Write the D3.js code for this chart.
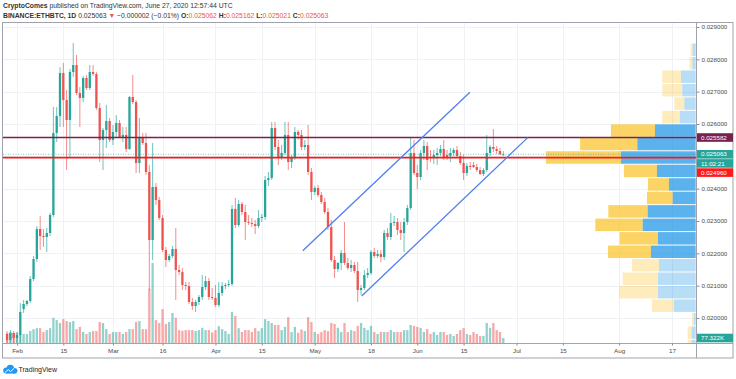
<!DOCTYPE html>
<html><head><meta charset="utf-8">
<script src="https://cdn.jsdelivr.net/npm/d3@7"></script>
<style>
html,body{margin:0;padding:0;background:#fff;}
svg{display:block;font-family:"Liberation Sans",Arial,sans-serif;}
</style></head><body>
<svg id="c" width="736" height="379"></svg>
<script>
// ---------- DATA (daily ETH/BTC, Jan 29 – Jun 27 2020) ----------
const firstDay = "2020-01-29";
const opens = [
0.019505,0.019320,0.019536,
0.019381,0.019474,0.020278,0.020433,0.020526,0.021206,0.021825,0.022753,0.022536,0.022505,0.022629,0.023186,0.025722,0.026247,0.027577,0.026742,0.026124,0.027608,0.027825,0.026959,0.026804,0.027423,0.027113,0.027608,0.027546,0.026495,0.025505,0.025814,0.026093,
0.025505,0.025753,0.026031,0.025598,0.025660,0.025227,0.026835,0.026680,0.024794,0.025598,0.025412,0.024515,0.022412,0.024052,0.023649,0.023093,0.022103,0.021794,0.021918,0.022134,0.021485,0.021423,0.021021,0.020990,0.020495,0.020371,0.020495,0.020649,0.020959,0.021144,0.020649,
0.020619,0.020402,0.020773,0.020990,0.021021,0.021052,0.023371,0.022876,0.023526,0.023278,0.022969,0.022938,0.022907,0.022845,0.023093,0.023124,0.024268,0.024330,0.025876,0.025289,0.024948,0.025103,0.025660,0.024825,0.024948,0.025753,0.025660,0.025289,0.025351,0.024515,
0.023897,0.024021,0.023804,0.023588,0.023278,0.022814,0.021794,0.021515,0.021701,0.022010,0.021701,0.021546,0.021639,0.021454,0.020866,0.020928,0.021330,0.021392,0.022041,0.021918,0.021979,0.021887,0.022629,0.022505,0.022938,0.022969,0.022722,0.022629,0.022969,0.023402,0.025103,
0.024485,0.024361,0.025103,0.025320,0.024979,0.024948,0.025041,0.025103,0.025227,0.025041,0.025010,0.025103,0.025196,0.025010,0.024794,0.024485,0.024701,0.024732,0.024670,0.024577,0.024454,0.024577,0.025103,0.025289,0.025227,0.025165,0.025062];
const highs = [
0.019598,0.019629,0.019598,
0.019536,0.020464,0.020557,0.020557,0.021299,0.021918,0.022845,0.023155,0.022753,0.022784,0.023247,0.026526,0.026526,0.027763,0.027887,0.027052,0.027701,0.028505,0.028134,0.027144,0.027485,0.027516,0.027825,0.027825,0.027608,0.026650,0.025876,0.026588,0.026186,
0.025969,0.026278,0.026124,0.025907,0.025907,0.026870,0.027516,0.026742,0.026186,0.025722,0.025722,0.024732,0.025412,0.024175,0.023742,0.023186,0.022196,0.021979,0.022227,0.022784,0.021639,0.021546,0.021113,0.021113,0.020619,0.020557,0.020711,0.021330,0.021299,0.021237,0.020928,
0.021021,0.021113,0.021113,0.021082,0.021175,0.023495,0.023711,0.023649,0.023588,0.023495,0.023186,0.023093,0.023031,0.023340,0.023217,0.024392,0.024515,0.026062,0.026062,0.025505,0.025351,0.026062,0.026062,0.025041,0.025907,0.025814,0.025814,0.025505,0.025969,0.024639,
0.024082,0.024113,0.023897,0.023711,0.023402,0.023031,0.021918,0.021732,0.022103,0.022969,0.021856,0.021794,0.021732,0.021732,0.021021,0.021485,0.021546,0.022103,0.022165,0.022103,0.022103,0.022722,0.022784,0.023247,0.023155,0.023093,0.022969,0.023093,0.023495,0.025598,0.025505,
0.024732,0.025196,0.025505,0.025443,0.025196,0.025196,0.025258,0.025351,0.025505,0.025196,0.025258,0.025258,0.025320,0.025134,0.025041,0.024794,0.024825,0.024825,0.024763,0.024670,0.024639,0.025660,0.025351,0.025845,0.025320,0.025258,0.025162];
const lows = [
0.019134,0.019134,0.019134,
0.019196,0.019134,0.020155,0.020371,0.020464,0.021144,0.021732,0.022103,0.022196,0.022041,0.022536,0.023124,0.025443,0.025907,0.025907,0.024577,0.024948,0.027454,0.026897,0.025907,0.026680,0.027052,0.027052,0.027485,0.026433,0.024825,0.024577,0.025258,0.025443,
0.025351,0.025567,0.025567,0.025443,0.025134,0.025196,0.026619,0.024485,0.024485,0.025351,0.024423,0.020866,0.021794,0.023495,0.023031,0.022041,0.021577,0.021732,0.021856,0.020557,0.021330,0.020866,0.020866,0.020433,0.020247,0.020186,0.020402,0.020557,0.020866,0.020557,0.020557,
0.020340,0.020340,0.020680,0.020897,0.020959,0.020990,0.022784,0.022814,0.023186,0.022412,0.022876,0.022814,0.022598,0.022784,0.022969,0.023031,0.024082,0.024268,0.025196,0.024732,0.024887,0.025041,0.024577,0.024639,0.024887,0.025505,0.025196,0.025196,0.024423,0.023649,
0.023804,0.023742,0.023526,0.023217,0.022722,0.021732,0.021237,0.021423,0.021485,0.021639,0.021485,0.021423,0.021392,0.020495,0.020711,0.020866,0.021237,0.021330,0.021856,0.021856,0.021732,0.021794,0.022412,0.022412,0.022845,0.022567,0.022412,0.022041,0.022876,0.023340,0.024423,
0.023990,0.024268,0.024887,0.024577,0.024825,0.024763,0.024732,0.025010,0.024887,0.024887,0.024825,0.025010,0.024948,0.024732,0.024268,0.024392,0.024577,0.024639,0.024515,0.024423,0.024392,0.024515,0.025010,0.025134,0.025072,0.025041,0.025021];
const closes = [
0.019320,0.019536,0.019381,
0.019474,0.020186,0.020433,0.020526,0.021206,0.021825,0.022753,0.022536,0.022505,0.022629,0.023186,0.025722,0.026247,0.027577,0.026742,0.026124,0.027608,0.027825,0.026959,0.026804,0.027423,0.027113,0.027608,0.027546,0.026495,0.025505,0.025814,0.026093,0.025505,
0.025753,0.026031,0.025598,0.025660,0.025227,0.026835,0.026680,0.024794,0.025598,0.025412,0.024515,0.022412,0.024052,0.023649,0.023093,0.022103,0.021794,0.021918,0.022134,0.021485,0.021423,0.021021,0.020990,0.020495,0.020371,0.020495,0.020649,0.020959,0.021144,0.020649,0.020619,
0.020402,0.020773,0.020990,0.021021,0.021052,0.023371,0.022876,0.023526,0.023278,0.022969,0.022938,0.022907,0.022845,0.023093,0.023124,0.024268,0.024330,0.025876,0.025289,0.024948,0.025103,0.025660,0.024825,0.024948,0.025753,0.025660,0.025289,0.025351,0.024515,0.023897,
0.024021,0.023804,0.023588,0.023278,0.022814,0.021794,0.021515,0.021701,0.022010,0.021701,0.021546,0.021639,0.021454,0.020866,0.020928,0.021330,0.021392,0.022041,0.021918,0.021979,0.021887,0.022629,0.022505,0.022938,0.022969,0.022722,0.022629,0.022969,0.023402,0.025103,0.024485,
0.024361,0.025103,0.025320,0.024887,0.024948,0.025041,0.025103,0.025227,0.024979,0.024979,0.025103,0.025196,0.025010,0.024794,0.024485,0.024701,0.024670,0.024670,0.024577,0.024454,0.024577,0.025103,0.025289,0.025227,0.025165,0.025065,0.025063];
// volume, thousands of ETH
const volumes = [
150,170,155,
170,140,140,140,185,215,230,230,170,200,230,390,355,310,370,340,325,340,215,250,170,140,170,185,185,325,310,215,140,
170,170,170,140,170,215,215,325,340,215,215,840,1240,355,310,525,295,325,465,390,200,190,200,200,200,185,200,235,200,200,165,
200,260,215,185,140,480,420,230,170,200,200,170,230,185,230,370,340,310,280,280,200,250,400,170,250,160,210,185,400,325,
170,140,170,200,185,310,295,235,170,310,170,200,185,265,310,235,200,265,170,140,170,170,170,200,170,170,170,200,200,280,265,
250,235,170,215,140,170,125,170,170,125,140,110,140,200,230,140,125,170,140,110,110,310,235,310,200,170,77.322];

// price axis ticks (grid) and the ones that carry a label (0.025 is covered by the price tags)
const priceTicks = [0.020,0.021,0.022,0.023,0.024,0.025,0.026,0.027,0.028,0.029];
const priceTickLabels = [0.020,0.021,0.022,0.023,0.024,0.026,0.027,0.028,0.029];
// time axis ticks
const xTickDates = ["2020-02-01","2020-02-15","2020-03-01","2020-03-16","2020-04-01","2020-04-15","2020-05-01","2020-05-18","2020-06-01","2020-06-15","2020-07-01","2020-07-15","2020-08-01","2020-08-17"];
const xTickLabels = ["Feb","15","Mar","16","Apr","15","May","18","Jun","15","Jul","15","Aug","17"];

// horizontal levels
const levelResistance = 0.025582;
const levelSupport = 0.024960;
const lastPrice = 0.025063;
const countdown = "11:02:21";
const lastVolumeLabel = "77.322K";

// ascending channel (date, price)
const channelUpper = [["2020-04-27T09:00Z",0.022081],["2020-06-16T22:00Z",0.026981]];
const channelLower = [["2020-05-15T05:00Z",0.020680],["2020-07-04T11:00Z",0.025586]];

// visible range volume profile: rows from the top price downward
const profileTop = 0.028505;
const profileRow = 0.0004166;
const profileDown = [160,240,1500,1600,800,1420,3520,4580,6000,2640,1680,2060,3150,3790,3060,3440,2160,2820,3100,1760,160,320,320];
const profileUp   = [240,270,1180,1070,910,1260,3260,4670,5980,3100,2140,1840,3840,4240,3020,3580,2940,3020,3020,1740,140,320,320];
const valueAreaRows = [6,15]; // first and last row index inside value area

// ---------- LAYOUT ----------
const svg = d3.select("#c");
const paneL = 3, paneR = 696.5, paneT = 23, paneB = 343.5, frameR = 733, frameB = 358;
const GREEN = "#26a69a", RED = "#ef5350";
const TXT = "#4a4a4a", GRID = "#eef1f6";

const parse = d3.utcParse("%Y-%m-%d");
const first = parse(firstDay);
const dates = closes.map((_, i) => d3.utcDay.offset(first, i));

const x = d3.scaleUtc().domain([parse("2020-02-01"), parse("2020-08-17")]).range([17, 672]);
const y = d3.scaleLinear().domain([0.020, 0.029]).range([318, 27]);
const yv = d3.scaleLinear().domain([0, 1240]).range([paneB - 0.5, paneB - 80.5]);
const pw = d3.scaleLinear().domain([0, 12000]).range([0, 150]);

svg.append("rect").attr("width",736).attr("height",379).attr("fill","#fff");

svg.append("defs").append("clipPath").attr("id","pane")
  .append("rect").attr("x",paneL).attr("y",paneT).attr("width",paneR-paneL).attr("height",paneB-paneT);

// grid
const grid = svg.append("g");
grid.selectAll("line.h").data(priceTicks).join("line")
  .attr("x1",paneL).attr("x2",paneR).attr("y1",d=>Math.round(y(d))+0.5).attr("y2",d=>Math.round(y(d))+0.5)
  .attr("stroke",GRID).attr("stroke-width",1);
grid.selectAll("line.v").data(xTickDates).join("line")
  .attr("y1",paneT).attr("y2",paneB).attr("x1",d=>Math.round(x(parse(d)))+0.5).attr("x2",d=>Math.round(x(parse(d)))+0.5)
  .attr("stroke",GRID).attr("stroke-width",1);

const pane = svg.append("g").attr("clip-path","url(#pane)");

// volume bars
const bw = 2.3;
pane.append("g").selectAll("rect").data(volumes).join("rect")
  .attr("x",(d,i)=>x(dates[i]) - bw/2)
  .attr("width",bw)
  .attr("y",d=>yv(d))
  .attr("height",d=>yv(0)-yv(d))
  .attr("fill",(d,i)=>closes[i] >= opens[i] ? GREEN : RED)
  .attr("fill-opacity",0.5);

// volume profile
const profRight = 695.7;
const prof = pane.append("g");
profileDown.forEach((dn, k) => {
  const up = profileUp[k];
  const top = profileTop - k*profileRow;
  const y0 = y(top), y1 = y(top - profileRow);
  const inVA = k >= valueAreaRows[0] && k <= valueAreaRows[1];
  const op = inVA ? 0.7 : 0.3;
  const h = y1 - y0 - 1;
  prof.append("rect").attr("x",profRight - pw(up+dn)).attr("width",pw(dn))
    .attr("y",y0+0.5).attr("height",h).attr("fill","#fbc123").attr("fill-opacity",op);
  prof.append("rect").attr("x",profRight - pw(up)).attr("width",pw(up))
    .attr("y",y0+0.5).attr("height",h).attr("fill","#1592e6").attr("fill-opacity",op);
});

// candles
const cg = pane.append("g");
closes.forEach((c, i) => {
  const o = opens[i], col = c >= o ? GREEN : RED;
  const cx = x(dates[i]);
  cg.append("line").attr("x1",cx).attr("x2",cx).attr("y1",y(highs[i])).attr("y2",y(lows[i]))
    .attr("stroke",col).attr("stroke-width",0.9).attr("stroke-opacity",0.75);
  const top = y(Math.max(o,c)), bot = y(Math.min(o,c));
  cg.append("rect").attr("x",cx-bw/2).attr("width",bw).attr("y",top).attr("height",Math.max(0.9, bot-top)).attr("fill",col);
});

// levels
pane.append("line").attr("x1",paneL).attr("x2",paneR).attr("y1",y(levelResistance)).attr("y2",y(levelResistance))
  .attr("stroke","#7b2150").attr("stroke-width",1.6);
pane.append("line").attr("x1",paneL).attr("x2",paneR).attr("y1",y(lastPrice)).attr("y2",y(lastPrice))
  .attr("stroke",GREEN).attr("stroke-width",1).attr("stroke-dasharray","1,1.5").attr("stroke-opacity",0.6);
pane.append("line").attr("x1",paneL).attr("x2",paneR).attr("y1",y(levelSupport)).attr("y2",y(levelSupport))
  .attr("stroke","#f41c1c").attr("stroke-width",1.6);

// channel
const lineGen = d3.line().x(d=>x(new Date(d[0]))).y(d=>y(d[1]));
[channelUpper, channelLower].forEach(seg => {
  pane.append("path").attr("d",lineGen(seg)).attr("fill","none").attr("stroke","#4f7ff0").attr("stroke-width",1.3);
});

// frame
const frame = svg.append("g").attr("stroke","#a0a3ab").attr("stroke-width",1).attr("fill","none");
frame.append("rect").attr("x",paneL-0.5).attr("y",paneT-0.5).attr("width",frameR-paneL+0.5).attr("height",frameB-paneT+0.5);
frame.append("line").attr("x1",paneR).attr("x2",paneR).attr("y1",paneT).attr("y2",frameB);
frame.append("line").attr("x1",paneL).attr("x2",frameR).attr("y1",paneB).attr("y2",paneB);

// price axis
const ya = svg.append("g").attr("transform",`translate(${paneR},0)`)
  .call(d3.axisRight(y).tickValues(priceTickLabels).tickFormat(d3.format(".6f")).tickSize(3).tickPadding(2));
ya.select(".domain").remove();
ya.selectAll("line").attr("stroke","#8a8d95");
ya.selectAll("text").attr("font-size",6.2).attr("fill",TXT).attr("font-family","Liberation Sans, Arial, sans-serif");

// time axis
const xa = svg.append("g").attr("transform",`translate(0,${paneB})`)
  .call(d3.axisBottom(x).tickValues(xTickDates.map(parse)).tickFormat((d,i)=>xTickLabels[i]).tickSize(2).tickPadding(3));
xa.select(".domain").remove();
xa.selectAll("line").attr("stroke","#8a8d95");
xa.selectAll("text").attr("font-size",6.2).attr("fill",TXT).attr("font-family","Liberation Sans, Arial, sans-serif");

// axis label boxes
function axisBox(cy, text, fill){
  const g = svg.append("g");
  g.append("rect").attr("x",paneR+0.5).attr("y",cy-4.3).attr("width",frameR-paneR-0.5).attr("height",8.6).attr("fill",fill);
  g.append("text").attr("x",paneR+4.5).attr("y",cy).attr("dy","0.34em").attr("font-size",6.2).attr("fill","#fff").text(text);
}
const boxH = 9.15;
const yRes = y(levelResistance), yLast = y(lastPrice);
const yCount = yLast + boxH;
const ySup = Math.max(y(levelSupport), yCount + boxH);
axisBox(yRes, d3.format(".6f")(levelResistance), "#7b2150");
axisBox(yLast, d3.format(".6f")(lastPrice), GREEN);
axisBox(yCount, countdown, GREEN);
axisBox(ySup, d3.format(".6f")(levelSupport), "#ff1a1a");
axisBox(yv(volumes[volumes.length-1]), lastVolumeLabel, GREEN);

// header
const h1 = svg.append("text").attr("x",3).attr("y",8.3).attr("font-size",6.8).attr("fill","#333");
h1.append("tspan").attr("font-weight","bold").text("CryptoComes");
h1.append("tspan").text(" published on TradingView.com, June 27, 2020 12:57:44 UTC");
const h2 = svg.append("text").attr("x",3).attr("y",17.8).attr("font-size",6.8).attr("fill","#333");
h2.append("tspan").attr("font-weight","bold").text("BINANCE:ETHBTC, 1D");
h2.append("tspan").text(" 0.025063 ");
h2.append("tspan").attr("fill",RED).text("▼");
h2.append("tspan").text(" −0.000002 (−0.01%) ");
[["O:","0.025062"],[" H:","0.025162"],[" L:","0.025021"],[" C:","0.025063"]].forEach(([k,v])=>{
  h2.append("tspan").attr("font-weight","bold").text(k);
  h2.append("tspan").attr("fill",RED).text(v);
});

// TradingView logo
const logo = svg.append("g");
logo.append("circle").attr("cx",6.2).attr("cy",370.6).attr("r",3).attr("fill","#2196f3");
logo.append("circle").attr("cx",10.3).attr("cy",368.6).attr("r",3.8).attr("fill","#2196f3");
logo.append("circle").attr("cx",14.6).attr("cy",370.8).attr("r",2.8).attr("fill","#2196f3");
logo.append("rect").attr("x",6.2).attr("y",370).attr("width",8.4).attr("height",3.6).attr("fill","#2196f3");
logo.append("polyline").attr("points","5,372.5 8.2,369.6 10.6,371.6 14.2,368.2").attr("fill","none").attr("stroke","#fff").attr("stroke-width",1);
svg.append("text").attr("x",18.5).attr("y",372.2).attr("font-size",7).attr("fill","#1e222d").text("TradingView");
</script>
</body></html>
